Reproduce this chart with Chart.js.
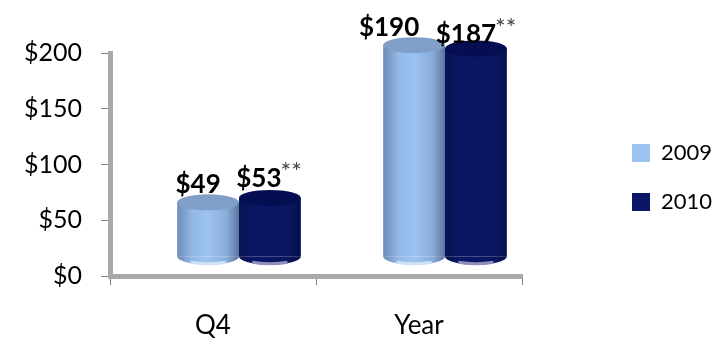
<!DOCTYPE html>
<html>
<head>
<meta charset="utf-8">
<style>
  html, body { margin: 0; padding: 0; background: #fff; }
  canvas { display: block; }
</style>
<script src="https://cdn.jsdelivr.net/npm/chart.js@4"></script>
</head>
<body>
<canvas id="salesChart" width="721" height="338"></canvas>
<script>
const categories = ['Q4', 'Year'];
const values2009 = [49, 190];
const values2010 = [53, 187];
const yTicks = [0, 50, 100, 150, 200];

// cap, base rim and label look per series
const capColors = ['#7f9fc8', '#040e50'];
const rimColors = ['#cfe0f7', '#8b90bc'];
const noteMarks = ['', '**'];

// bars sit behind the axis plane, so everything is shifted back by this much
const depthX = 26;
const depthY = 19;
const capHeight = 8;

// nudges for the value labels, [series][category], relative to the bar centre and top
const labelDx = [[-10, -25], [-11, -10]];
const labelDy = [[-18, -18], [-19, -14]];

const cylinders = {
    id: 'cylinders',
    beforeDatasetDraw(chart) {
        chart.ctx.save();
        chart.ctx.translate(depthX, -depthY);
    },
    afterDatasetDraw(chart, args) {
        const c = chart.ctx;
        const i = args.index;
        args.meta.data.forEach(bar => {
            const w = bar.width;
            const left = bar.x - w / 2;
            // shade the sides so the flat bar reads as round
            const shade = c.createLinearGradient(left, 0, left + w, 0);
            shade.addColorStop(0, 'rgba(0,10,40,0.3)');
            shade.addColorStop(0.25, 'rgba(0,10,40,0.06)');
            shade.addColorStop(0.5, 'rgba(0,10,40,0)');
            shade.addColorStop(0.8, 'rgba(0,10,40,0.12)');
            shade.addColorStop(1, 'rgba(0,10,40,0.42)');
            c.fillStyle = chart.data.datasets[i].backgroundColor;
            c.beginPath();
            c.ellipse(bar.x, bar.base, w / 2, capHeight, 0, 0, Math.PI);
            c.fill();
            c.fillStyle = shade;
            c.fillRect(left, bar.y, w, bar.base - bar.y);
            c.beginPath();
            c.ellipse(bar.x, bar.base, w / 2, capHeight, 0, 0, Math.PI);
            c.fill();
            // pale patch along the bottom edge
            c.strokeStyle = rimColors[i];
            c.lineWidth = 3;
            c.beginPath();
            c.ellipse(bar.x, bar.base, w / 2 - 1, capHeight - 1, 0, Math.PI * 0.3, Math.PI * 0.7);
            c.stroke();
            // top cap
            c.fillStyle = capColors[i];
            c.beginPath();
            c.ellipse(bar.x, bar.y, w / 2, capHeight, 0, 0, Math.PI * 2);
            c.fill();
        });
        c.restore();
    },
    afterDatasetsDraw(chart) {
        const c = chart.ctx;
        chart.data.datasets.forEach((ds, i) => {
            chart.getDatasetMeta(i).data.forEach((bar, j) => {
                const x = bar.x + depthX + labelDx[i][j];
                const y = bar.y - depthY + labelDy[i][j];
                const text = '$' + ds.data[j];
                c.save();
                c.font = 'bold 26px Lato';
                c.fillStyle = '#000';
                c.textAlign = 'center';
                c.textBaseline = 'middle';
                c.fillText(text, x, y);
                if (noteMarks[i]) {
                    const end = x + c.measureText(text).width / 2;
                    c.font = '25px Lato';
                    c.fillStyle = '#444';
                    c.textAlign = 'left';
                    c.fillText(noteMarks[i], end - 1, y - 6);
                }
                c.restore();
            });
        });
    }
};

// legend keeps its own slot on the right, well clear of the plot
const legendSlot = {
    id: 'legendSlot',
    beforeInit(chart) {
        const fit = chart.legend.fit;
        chart.legend.fit = function () {
            fit.call(this);
            this.width = 199;
        };
    },
    afterLayout(chart) {
        chart.legend.left = 605;
        chart.legend.top = 115;
    }
};

const gray = '#a9a9a9';

new Chart(document.getElementById('salesChart').getContext('2d'), {
    type: 'bar',
    data: {
        labels: categories,
        datasets: [
            { label: '2009', data: values2009, backgroundColor: '#9cc3f2', clip: false },
            { label: '2010', data: values2010, backgroundColor: '#0a1766', clip: false }
        ]
    },
    plugins: [cylinders, legendSlot],
    options: {
        responsive: false,
        animation: false,
        layout: { padding: { top: 53 } },
        datasets: { bar: { categoryPercentage: 0.6, barPercentage: 1 } },
        plugins: {
            tooltip: { enabled: false },
            legend: {
                position: 'right',
                align: 'start',
                labels: {
                    boxWidth: 18,
                    boxHeight: 18,
                    padding: 27,
                    color: '#000',
                    font: { family: 'Lato', size: 22 }
                }
            }
        },
        scales: {
            x: {
                afterFit(scale) { scale.height = 62; },
                border: { color: gray, width: 5 },
                grid: { drawOnChartArea: false, color: '#808080', tickLength: 9 },
                ticks: { color: '#000', padding: 25, font: { family: 'Lato', size: 26 } }
            },
            y: {
                min: 0,
                max: 200,
                afterFit(scale) { scale.width = 110; },
                afterBuildTicks(scale) { scale.ticks = yTicks.map(v => ({ value: v })); },
                border: { color: gray, width: 5 },
                grid: { drawOnChartArea: false, color: '#808080', tickLength: 9 },
                ticks: {
                    color: '#000',
                    padding: 19,
                    font: { family: 'Lato', size: 25 },
                    callback: v => '$' + v
                }
            }
        }
    }
});
</script>
</body>
</html>
